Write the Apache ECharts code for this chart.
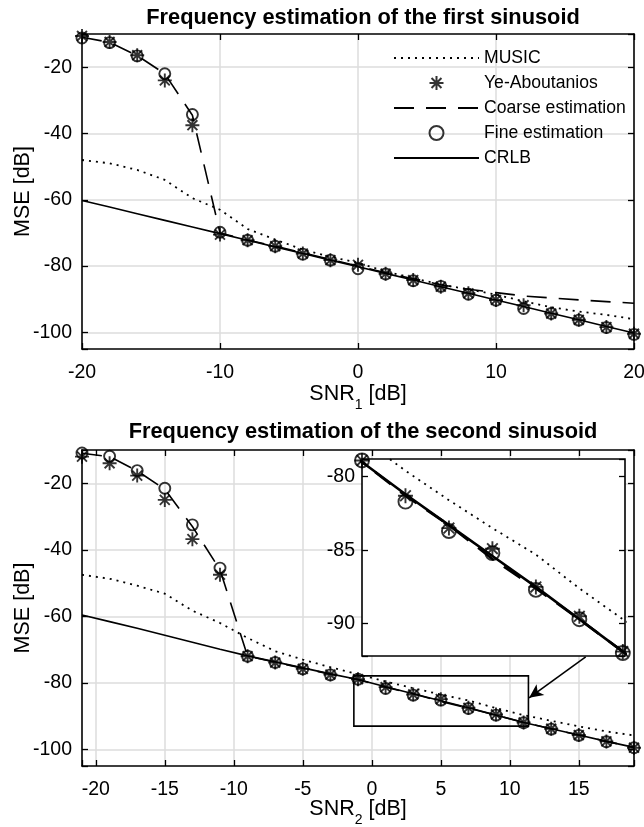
<!DOCTYPE html>
<html>
<head>
<meta charset="utf-8">
<script src="https://cdn.jsdelivr.net/npm/echarts@6.0.0/dist/echarts.min.js"></script>
<style>
    html, body {margin: 0; padding: 0; background: #fff;}
    #main {width: 644px; height: 827px;}
</style>
</head>
<body>
<div id="main"></div>
<script>
    // first sinusoid, SNR1 = -20:2:20
    var snr1 = [-20, -18, -16, -14, -12, -10, -8, -6, -4, -2, 0, 2, 4, 6, 8, 10, 12, 14, 16, 18, 20];
    var music1 = [-48, -49, -51, -54, -59.5, -63, -68.8, -72, -75, -77.2, -79, -81.6, -83.6, -85.6, -87, -88.6, -90.6, -92.4, -93.7, -94.7, -96];
    var ye1 = [-10.6, -12.4, -16.4, -24, -37.5, -70.5, -72.2, -74, -76.2, -78.2, -79.6, -82.3, -84.2, -86.2, -88.2, -90.2, -91.8, -94.3, -96.2, -98.4, -100.4];
    var coarse1 = [-11, -12.5, -16.5, -22, -34.5, -70, -72.1, -74, -76, -78, -80, -82, -83.8, -85.6, -87, -88, -89, -89.6, -90.2, -90.7, -91.2];
    var fine1 = [-11.2, -12.6, -16.6, -22, -34.3, -69.8, -72.2, -74, -76.4, -78.2, -80.8, -82.4, -84.4, -86.1, -88.5, -90.3, -92.8, -94.3, -96.3, -98.5, -100.6];
    var crlb1 = [-60.2, -62.2, -64.2, -66.2, -68.2, -70.2, -72.2, -74.2, -76.2, -78.2, -80.2, -82.2, -84.2, -86.2, -88.2, -90.2, -92.2, -94.2, -96.2, -98.2, -100.2];

    // second sinusoid, SNR2 = -21:2:19
    var snr2 = [-21, -19, -17, -15, -13, -11, -9, -7, -5, -3, -1, 1, 3, 5, 7, 9, 11, 13, 15, 17, 19];
    var music2 = [-47.5, -48.7, -50.8, -53.2, -58.3, -62, -66.5, -70.5, -73, -75.3, -77.4, -79.6, -81.6, -83.5, -85.3, -87.6, -89.7, -91.4, -93.1, -94.6, -95.8];
    var ye2 = [-12, -14, -17.7, -25, -36.8, -47.5, -72, -73.9, -75.8, -77.5, -78.9, -81.3, -83.5, -84.9, -87.5, -89.5, -91.9, -93.8, -95.7, -97.6, -99.5];
    var coarse2 = [-11, -12, -16.3, -21.8, -33, -46, -72, -73.8, -75.6, -77.4, -79, -81.3, -83.3, -85.6, -87.6, -89.7, -91.9, -93.8, -95.7, -97.6, -99.4];
    var fine2 = [-10.9, -11.9, -16.2, -21.5, -32.5, -45.5, -72, -73.9, -75.8, -77.6, -78.9, -81.7, -83.7, -85.2, -87.7, -89.7, -92, -93.9, -95.8, -97.7, -99.5];
    var crlb2 = [-59.6, -61.6, -63.6, -65.7, -67.8, -69.9, -71.9, -73.7, -75.5, -77.3, -79, -81.2, -83.3, -85.4, -87.5, -89.7, -91.9, -93.8, -95.7, -97.6, -99.4];

    // zoom rectangle and arrow, in SNR2 / MSE units
    var zoomBox = [[-1.3, -77.9], [11.35, -93]];
    var zoomArrow = [[15.5, -72.2], [11.4, -84.5]];

    var FONT = '"Liberation Sans", Arial, sans-serif';
    var ASTERISK = 'path://M12,0L12,24M0,12L24,12M3.5,3.5L20.5,20.5M3.5,20.5L20.5,3.5';

    function pairs(xs, ys) {
        return xs.map(function (x, i) {
            return [x, ys[i]];
        });
    }

    function every(step) {
        return function (v) {
            return Math.abs(v % step) < 1e-6 ? String(v) : '';
        };
    }

    function curves(xs, music, ye, coarse, fine, crlb, ax, big) {
        var lw = big ? 2.6 : 1.6;
        var z = big ? 6 : 2;
        return [
            {name: 'MUSIC', type: 'line', xAxisIndex: ax, yAxisIndex: ax, z: z,
                data: pairs(xs, music), symbol: 'none', itemStyle: {color: '#000'},
                lineStyle: {color: '#000', width: 1.8, type: [2, 5]}},
            {name: 'Ye-Aboutanios', type: 'scatter', xAxisIndex: ax, yAxisIndex: ax, z: z,
                data: pairs(xs, ye), symbol: ASTERISK, symbolSize: big ? 15 : 14, symbolKeepAspect: true,
                itemStyle: {color: 'rgba(0,0,0,0)', borderColor: '#000', borderWidth: 1.9}},
            {name: 'Coarse estimation', type: 'line', xAxisIndex: ax, yAxisIndex: ax, z: z,
                data: pairs(xs, coarse), symbol: 'none', itemStyle: {color: '#000'},
                lineStyle: {color: '#000', width: lw, type: [20, 12]}},
            {name: 'Fine estimation', type: 'scatter', xAxisIndex: ax, yAxisIndex: ax, z: z,
                data: pairs(xs, fine), symbol: 'circle', symbolSize: big ? 14 : 11,
                itemStyle: {color: 'rgba(0,0,0,0)', borderColor: '#000', borderWidth: 1.9}},
            {name: 'CRLB', type: 'line', xAxisIndex: ax, yAxisIndex: ax, z: z,
                data: pairs(xs, crlb), symbol: 'none', itemStyle: {color: '#000'},
                lineStyle: {color: '#000', width: lw}}
        ];
    }

    var axisLine = {onZero: false, lineStyle: {color: '#000', width: 1.6}};
    var tick = {inside: true, length: 6, lineStyle: {color: '#000', width: 1.3}};
    var gridLine = {show: true, showMinLine: false, showMaxLine: false, lineStyle: {color: '#dcdcdc', width: 1.5}};
    var label = {fontFamily: FONT, fontSize: 19.5, color: '#000'};
    var xName = {fontFamily: FONT, fontSize: 21.5, color: '#000', lineHeight: 36,
        rich: {s: {fontFamily: FONT, fontSize: 14, lineHeight: 14, verticalAlign: 'bottom', color: '#000'}}};
    var yName = {fontFamily: FONT, fontSize: 21.5, color: '#000'};
    var noDot = {opacity: 0};

    function mirrorX(grid, min, max, extra) {
        return Object.assign({type: 'value', gridIndex: grid, position: 'top', min: min, max: max,
            axisLine: axisLine, axisTick: tick, axisLabel: {show: false}, splitLine: {show: false}}, extra);
    }

    function mirrorY(grid, min, max, extra) {
        return Object.assign({type: 'value', gridIndex: grid, position: 'right', min: min, max: max,
            axisLine: axisLine, axisTick: tick, axisLabel: {show: false}, splitLine: {show: false}}, extra);
    }

    var chart = echarts.init(document.getElementById('main'), null, {renderer: 'canvas'});
    chart.setOption({
        animation: false,
        backgroundColor: '#fff',
        color: ['#000'],
        textStyle: {fontFamily: FONT},
        title: [
            {text: 'Frequency estimation of the first sinusoid', left: 358, top: 0, textAlign: 'center',
                textStyle: {fontFamily: FONT, fontSize: 21.8, fontWeight: 'bold', color: '#000', lineHeight: 26}},
            {text: 'Frequency estimation of the second sinusoid', left: 358, top: 414, textAlign: 'center',
                textStyle: {fontFamily: FONT, fontSize: 21.8, fontWeight: 'bold', color: '#000', lineHeight: 26}}
        ],
        legend: {
            left: 393, top: 48, orient: 'vertical', padding: 0,
            itemWidth: 85, itemHeight: 14, itemGap: 5, selectedMode: false,
            textStyle: {fontFamily: FONT, fontSize: 17.6, color: '#000', lineHeight: 20},
            data: [
                {name: 'MUSIC', itemStyle: noDot},
                {name: 'Ye-Aboutanios'},
                {name: 'Coarse estimation', itemStyle: noDot},
                {name: 'Fine estimation'},
                {name: 'CRLB', itemStyle: noDot}
            ]
        },
        grid: [
            {left: 82, top: 34, width: 552, height: 315, containLabel: false, outerBoundsMode: 'none'},
            {left: 82, top: 450, width: 552, height: 316, containLabel: false, outerBoundsMode: 'none'},
            {left: 362, top: 459, width: 263, height: 197, containLabel: false, outerBoundsMode: 'none'}
        ],
        graphic: {
            elements: [{
                type: 'rect', z: 3, silent: true,
                shape: {x: 362, y: 459, width: 263, height: 197},
                style: {fill: '#fff', stroke: '#000', lineWidth: 1.6}
            }]
        },
        xAxis: [
            {type: 'value', gridIndex: 0, position: 'bottom', min: -20, max: 20, interval: 10,
                axisLine: axisLine, axisTick: tick, splitLine: gridLine,
                axisLabel: Object.assign({margin: 14}, label),
                name: 'SNR{s|1} [dB]', nameLocation: 'middle', nameGap: 27.5, nameMoveOverlap: false, nameTextStyle: xName},
            mirrorX(0, -20, 20, {interval: 10}),
            {type: 'value', gridIndex: 1, position: 'bottom', min: -21, max: 19, splitNumber: 8,
                axisLine: axisLine, axisTick: tick, splitLine: gridLine,
                axisLabel: Object.assign({margin: 14, formatter: every(5)}, label),
                name: 'SNR{s|2} [dB]', nameLocation: 'middle', nameGap: 25, nameMoveOverlap: false, nameTextStyle: xName},
            mirrorX(1, -21, 19, {splitNumber: 8}),
            {type: 'value', gridIndex: 2, min: -1, max: 11.1, show: false}
        ],
        yAxis: [
            {type: 'value', gridIndex: 0, position: 'left', min: -105, max: -10, splitNumber: 5,
                axisLine: axisLine, axisTick: tick, splitLine: gridLine,
                axisLabel: Object.assign({margin: 10, formatter: every(20)}, label),
                name: 'MSE [dB]', nameLocation: 'middle', nameGap: 48, nameMoveOverlap: false, nameTextStyle: yName},
            mirrorY(0, -105, -10, {splitNumber: 5}),
            {type: 'value', gridIndex: 1, position: 'left', min: -105, max: -10, splitNumber: 5,
                axisLine: axisLine, axisTick: tick, splitLine: gridLine,
                axisLabel: Object.assign({margin: 10, formatter: every(20)}, label),
                name: 'MSE [dB]', nameLocation: 'middle', nameGap: 48, nameMoveOverlap: false, nameTextStyle: yName},
            mirrorY(1, -105, -10, {splitNumber: 5}),
            {type: 'value', gridIndex: 2, position: 'left', min: -92.2, max: -78.8, splitNumber: 3, z: 5,
                axisLine: {show: false, onZero: false}, axisTick: tick, splitLine: {show: false},
                axisLabel: Object.assign({margin: 7, formatter: every(5)}, label)},
            {type: 'value', gridIndex: 2, position: 'right', min: -92.2, max: -78.8, splitNumber: 3, z: 5,
                axisLine: {show: false, onZero: false}, axisTick: tick, splitLine: {show: false},
                axisLabel: {show: false}}
        ],
        series: [].concat(
            curves(snr1, music1, ye1, coarse1, fine1, crlb1, 0, false),
            curves(snr2, music2, ye2, coarse2, fine2, crlb2, 2, false),
            [{
                name: 'zoom', type: 'line', xAxisIndex: 2, yAxisIndex: 2, data: [], silent: true,
                markArea: {
                    silent: true,
                    itemStyle: {color: 'rgba(0,0,0,0)', borderColor: '#000', borderWidth: 1.6},
                    data: [[{coord: zoomBox[0]}, {coord: zoomBox[1]}]]
                },
                markLine: {
                    silent: true, symbol: ['none', 'arrow'], symbolSize: [10, 14],
                    label: {show: false},
                    lineStyle: {color: '#000', width: 1.6, type: 'solid'},
                    data: [[{coord: zoomArrow[0]}, {coord: zoomArrow[1]}]]
                }
            }],
            curves(snr2, music2, ye2, coarse2, fine2, crlb2, 4, true)
        )
    });
</script>
</body>
</html>
